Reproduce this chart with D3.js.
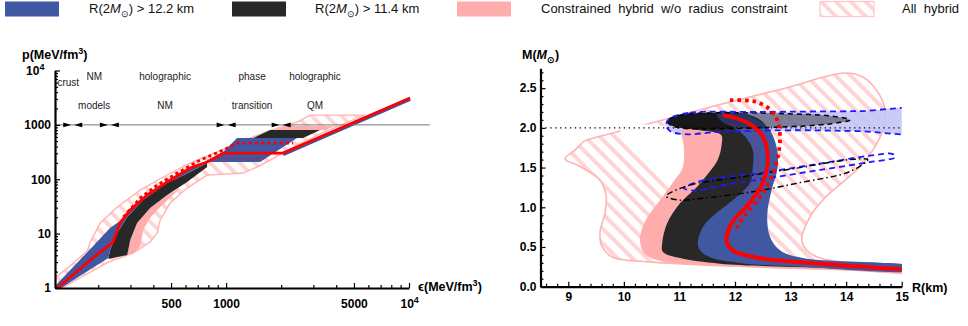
<!DOCTYPE html>
<html>
<head>
<meta charset="utf-8">
<title>Hybrid star EOS and M-R bands</title>
<script src="https://cdn.jsdelivr.net/npm/d3@7"></script>
<style>
body { margin: 0; background: #fff; }
svg { font-family: "Liberation Sans", Arial, sans-serif; }
.axis path.domain { stroke: #000; stroke-width: 2.2; }
.axis line { stroke: #000; stroke-width: 1.2; }
.axis text { font-size: 12px; font-weight: bold; fill: #000; }
.lbl { font-size: 12.5px; font-weight: bold; }
.note { font-size: 10px; fill: #222; }
.legend text { font-size: 13px; fill: #111; }
</style>
</head>
<body>
<svg id="fig" width="968" height="326"></svg>
<script>
// ---------- left panel: p(eps), MeV/fm^3 ----------
var allHybridEos = [[116,1.53],[140,2.54],[174,4.79],[181,7.01],[205,15.7],[254,30.8],[339,63.3],[452,110],
  [636,199],[893,316],[1193,483],[1593,707],[1973,912],[2443,1125],[2877,1514],[5749,1514],
  [4761,1175],[3264,678],[2443,425],[1740,225],[1477,168],[1238,130],[787,119],[612,68.9],
  [494,36.5],[436,17.8],[420,10.3],[384,7.01],[310,4.40],[227,3.0],[116,0.85]];
var constrainedEosNM = [[288,4.04],[299,7.63],[326,15.7],[384,29.6],[476,51.3],[561,68.9],
  [436,30.8],[384,19.4],[352,11.7],[339,5.67],[310,4.40]];
var constrainedEosPT = [[1852,802],[3475,802],[3941,951],[2101,951]];
var softEosNM = [[227,3.41],[232,4.99],[254,10.3],[288,20.2],[352,41.5],[476,85.1],[636,136],[787,199],
  [787,168],[612,88.9],[476,51.3],[384,29.6],[326,15.7],[299,7.63],[288,4.04]];
var softEosPT = [[1740,802],[3264,802],[2634,572],[1404,572]];
var stiffEos = [[116,1.09],[181,5.21],[232,12.7],[263,17],[299,29],[370,54],[476,93],[636,168],[787,215],
  [963,316],[1148,572],[2443,572],[1534,207],[797,207],[787,199],[636,136],[476,85.1],[352,41.5],
  [288,20.2],[254,10.3],[232,4.99],[227,3.56],[116,0.85]];
var stiffEosTail = [[2049,290],[10130,2990]];
var eosSolid = [[116,0.92],[181,3.27],[241,7.01],[263,15.7],[299,27.2],[370,51.3],[476,88.9],[636,161],
  [787,207],[963,303],[2049,303],[10130,3110]];
var eosDashed = [[274,20.2],[339,45.1],[420,78.2],[540,130],[721,225],[963,344],[1148,463],[2323,463]];
var eosDotted = [[818,245],[1675,245]];
var refPressure = 1000;
var refLineEps = [116, 13000];
var regionEdges = [145, 230, 1000, 2000];
var regionLabels = [
  {eps: 137, rows: ["crust"], crust: true},
  {eps: 190, rows: ["NM", "models"]},
  {eps: 464, rows: ["holographic", "NM"]},
  {eps: 1387, rows: ["phase", "transition"]},
  {eps: 3062, rows: ["holographic", "QM"]}];
var labelRowsP = [7900, 2300], crustRowP = 5900;
var epsMajor = [500, 1000, 5000, 10000];
var pMajor = [1, 10, 100, 1000, 10000];

// ---------- right panel: M(R), km and solar masses ----------
var allHybridMR = [[13.98,2.69],[14.30,2.64],[14.57,2.45],[14.70,2.23],[14.66,1.97],[14.48,1.72],[14.25,1.51],
  [13.98,1.34],[13.62,1.12],[13.35,0.88],[13.20,0.59],[13.29,0.46],[13.53,0.36],[14.12,0.30],[14.97,0.27],
  [15.3,0.25],[15.3,0.19],[14.07,0.21],[12.32,0.25],[10.52,0.31],[9.80,0.37],[9.61,0.50],[9.57,0.68],[9.66,0.93],
  [9.68,1.15],[9.57,1.34],[9.39,1.44],[9.17,1.53],[8.94,1.61],[9.12,1.72],[9.30,1.84],[9.44,1.87],
  [10.6,2.08],[11.71,2.29],[12.9,2.50]];
var gapMR = [[9.93,2.0],[11.05,1.96],[11.08,1.76],[11.06,1.50],[10.88,1.28],[10.65,1.37],[10.38,1.60],[10.11,1.81]];
var constrainedMR = [[15.3,0.20],[13.53,0.22],[11.73,0.26],[10.78,0.31],[10.38,0.41],[10.29,0.59],[10.38,0.82],
  [10.65,1.09],[10.88,1.31],[11.06,1.50],[11.08,1.76],[11.05,1.96],[11.37,2.00],[12.00,1.97],[12.09,1.72],
  [11.91,1.41],[11.64,1.16],[11.37,0.90],[11.19,0.59],[11.37,0.40],[15.3,0.25]];
var softMR = [[10.78,2.09],[11.01,2.16],[11.73,2.19],[12.27,2.16],[12.54,2.04],[12.63,1.72],[12.45,1.34],
  [12.18,1.03],[12.00,0.71],[12.09,0.46],[13.17,0.34],[15.3,0.245],[15.3,0.21],[13.53,0.24],[11.73,0.29],
  [11.01,0.36],[10.70,0.44],[10.69,0.55],[10.78,0.80],[11.01,1.05],[11.32,1.26],[11.50,1.41],[11.69,1.60],
  [11.76,1.79],[11.75,1.91],[11.37,1.97],[11.01,2.00],[10.83,2.04]];
var stiffMR = [[11.67,2.19],[12.03,2.19],[12.40,2.11],[12.63,1.97],[12.76,1.72],[12.76,1.47],[12.66,1.22],
  [12.58,0.90],[12.63,0.63],[12.81,0.46],[13.22,0.36],[15.3,0.245],[15.3,0.205],[13.17,0.25],[12.09,0.30],
  [11.55,0.37],[11.37,0.46],[11.33,0.55],[11.42,0.75],[11.67,0.93],[12.03,1.13],[12.27,1.31],[12.32,1.50],
  [12.32,1.72],[12.18,1.89],[11.96,2.01],[11.73,2.10]];
var massBand = [[10.83,2.12],[11.19,2.19],[12.45,2.20],[14.2,2.21],[15.4,2.21],[15.4,1.96],[14.2,1.96],[13.17,1.97],[11.73,1.95],
  [11.10,1.92],[10.83,1.96],[10.76,2.04]];
var massEllipse = [[10.78,2.09],[11.01,2.16],[11.73,2.19],[12.81,2.18],[13.71,2.15],[14.07,2.10],[13.71,2.05],
  [12.81,2.01],[11.73,1.99],[11.01,2.00],[10.83,2.04]];
var tiltBlue = [[11.08,1.24],[11.37,1.33],[12.45,1.43],[13.53,1.55],[14.43,1.65],[14.84,1.67],[14.88,1.63],
  [14.43,1.57],[13.53,1.47],[12.63,1.37],[11.73,1.27],[11.28,1.21]];
var tiltBlack = [[10.76,1.14],[11.19,1.28],[12.09,1.38],[13.17,1.50],[14.07,1.60],[14.39,1.60],[14.07,1.45],
  [13.17,1.31],[12.27,1.19],[11.37,1.11],[11.01,1.09]];
var mrSolid = [[11.78,2.16],[12.21,2.07],[12.50,1.89],[12.59,1.63],[12.50,1.31],[12.30,1.09],[12.18,0.99],
  [11.96,0.82],[11.85,0.63],[11.87,0.53],[12.00,0.44],[12.45,0.36],[13.53,0.29],[15.0,0.22]];
var mrDotted = [[11.91,2.35],[12.27,2.34],[12.45,2.31],[12.63,2.23],[12.76,2.10],[12.81,1.89],[12.77,1.63],
  [12.63,1.34],[12.45,1.13],[12.18,0.90],[12.03,0.74]];
var mrThin = [[11.91,2.05],[12.09,2.00],[12.27,1.95],[12.36,1.81],[12.41,1.63],[12.40,1.43],[12.27,1.26],[12.12,1.12]];
var refMass = 2.0;
var rMajor = [9, 10, 11, 12, 13, 14, 15];
var mMajor = [0, 0.5, 1, 1.5, 2, 2.5];

var legendItems = [
  {key: "stiff", parts: [["R(2"], ["M", "i"], ["\u2299", "s"], [") > 12.2 km"]]},
  {key: "soft", parts: [["R(2"], ["M", "i"], ["\u2299", "s"], [") > 11.4 km"]]},
  {key: "constrained", parts: [["Constrained  hybrid  w/o  radius  constraint"]]},
  {key: "all", parts: [["All  hybrid"]]}];

// ---------- styles / layout ----------
var BLUE = "#4057a2", DARK = "#282828", PINK = "#ffacac", EDGE = "#ffb3b3", RED = "#ff0000";
var fills = {stiff: BLUE, soft: DARK, constrained: PINK, all: "url(#hatch)"};
var legendBoxX = [5, 232, 457, 820], legendTextX = [89, 315, 541, 902];

var svg = d3.select("#fig");
var defs = svg.append("defs");
var pat = defs.append("pattern").attr("id", "hatch")
  .attr("patternUnits", "userSpaceOnUse")
  .attr("width", 10.5).attr("height", 10.5)
  .attr("patternTransform", "rotate(-45)");
pat.append("rect").attr("width", 4).attr("height", 10.5).attr("fill", "#ffd4d4");

var xL = d3.scaleLog().domain([116, 10000]).range([55, 409]);
var yL = d3.scaleLog().domain([1, 10000]).range([288, 70.5]);
var xR = d3.scaleLinear().domain([8.5, 15]).range([540.5, 901.7]);
var yR = d3.scaleLinear().domain([0, 2.75]).range([286.7, 68.3]);

defs.append("clipPath").attr("id", "clipL").append("rect")
  .attr("x", xL.range()[0]).attr("y", 60).attr("width", 380).attr("height", yL.range()[0] - 60);
defs.append("clipPath").attr("id", "clipR").append("rect")
  .attr("x", xR.range()[0]).attr("y", 60).attr("width", xR.range()[1] - xR.range()[0]).attr("height", yR.range()[0] - 60);

function shape(g, pts, x, y, curve) {
  return g.append("path").datum(pts)
    .attr("d", d3.line().x(d => x(d[0])).y(d => y(d[1])).curve(curve));
}

// ---------- left panel ----------
var gL = svg.append("g").attr("clip-path", "url(#clipL)");
var lin = d3.curveLinearClosed;
shape(gL, allHybridEos, xL, yL, lin).attr("fill", "url(#hatch)").attr("stroke", EDGE).attr("stroke-width", 1.4);
[constrainedEosNM, constrainedEosPT].forEach(p => shape(gL, p, xL, yL, lin).attr("fill", PINK));
[softEosNM, softEosPT].forEach(p => shape(gL, p, xL, yL, lin).attr("fill", DARK));
shape(gL, stiffEos, xL, yL, lin).attr("fill", BLUE);
shape(gL, stiffEosTail, xL, yL, d3.curveLinear).attr("fill", "none").attr("stroke", BLUE).attr("stroke-width", 4);

gL.append("line")
  .attr("x1", xL(refLineEps[0])).attr("x2", xL(refLineEps[1]))
  .attr("y1", yL(refPressure)).attr("y2", yL(refPressure))
  .attr("stroke", "#777").attr("stroke-width", 1);

shape(gL, eosDotted, xL, yL, d3.curveLinear).attr("fill", "none").attr("stroke", RED)
  .attr("stroke-width", 1.3).attr("stroke-dasharray", "1.2,2.6");
shape(gL, eosDashed, xL, yL, d3.curveLinear).attr("fill", "none").attr("stroke", RED)
  .attr("stroke-width", 2.8).attr("stroke-dasharray", "3.2,3");
shape(gL, eosSolid, xL, yL, d3.curveLinear).attr("fill", "none").attr("stroke", RED).attr("stroke-width", 2.8);

var ay = yL(refPressure);
regionEdges.forEach(function (e) {
  var xe = xL(e);
  svg.append("path").attr("d", d3.line()([[xe - 9.5, ay - 2.3], [xe - 1.5, ay], [xe - 9.5, ay + 2.3]]) + "Z").attr("fill", "#000");
  svg.append("path").attr("d", d3.line()([[xe + 9.5, ay - 2.3], [xe + 1.5, ay], [xe + 9.5, ay + 2.3]]) + "Z").attr("fill", "#000");
});
regionLabels.forEach(function (r) {
  if (r.crust) {
    svg.append("text").attr("class", "note").attr("x", xL(r.eps)).attr("y", yL(crustRowP))
      .attr("text-anchor", "middle").attr("dominant-baseline", "central").text(r.rows[0]);
  } else {
    r.rows.forEach(function (t, i) {
      svg.append("text").attr("class", "note").attr("x", xL(r.eps)).attr("y", yL(labelRowsP[i]))
        .attr("text-anchor", "middle").attr("dominant-baseline", "central").text(t);
    });
  }
});

// axes left
function minorOf(scale, major, n) {
  return scale.ticks(n).filter(v => major.indexOf(v) < 0);
}
var axXL = svg.append("g").attr("class", "axis").attr("transform", "translate(0," + yL.range()[0] + ")");
axXL.call(d3.axisBottom(xL).tickValues(minorOf(xL, epsMajor)).tickSize(-3).tickSizeOuter(0).tickFormat(""));
axXL.append("g").call(d3.axisBottom(xL).tickValues(epsMajor).tickSize(-5).tickSizeOuter(0).tickPadding(11)
  .tickFormat(d => d === 10000 ? "10" : d)).select(".domain").remove();
axXL.selectAll(".tick text").filter(d => d === 10000)
  .attr("text-anchor", "start").attr("dx", "-0.75em")
  .append("tspan").attr("dy", "-5").attr("font-size", "9px").text("4");

var axYL = svg.append("g").attr("class", "axis").attr("transform", "translate(" + xL.range()[0] + ",0)");
axYL.call(d3.axisLeft(yL).tickValues(minorOf(yL, pMajor)).tickSize(-3).tickSizeOuter(0).tickFormat(""));
axYL.append("g").call(d3.axisLeft(yL).tickValues(pMajor).tickSize(-5).tickSizeOuter(0).tickPadding(4)
  .tickFormat(d => d === 10000 ? "10" : d)).select(".domain").remove();
axYL.selectAll(".tick text").filter(d => d === 10000)
  .attr("dx", "-0.55em")
  .append("tspan").attr("dy", "-5").attr("font-size", "9px").text("4");

var tp = svg.append("text").attr("class", "lbl").attr("x", 22).attr("y", 59).text("p(MeV/fm");
tp.append("tspan").attr("dy", -5).attr("font-size", "9px").text("3");
tp.append("tspan").attr("dy", 5).text(")");
var te = svg.append("text").attr("class", "lbl").attr("x", 418).attr("y", 291).text("\u03F5(MeV/fm");
te.append("tspan").attr("dy", -5).attr("font-size", "9px").text("3");
te.append("tspan").attr("dy", 5).text(")");

// ---------- right panel ----------
var gR = svg.append("g").attr("clip-path", "url(#clipR)");
var cr = d3.curveCatmullRomClosed.alpha(0.5);
shape(gR, allHybridMR, xR, yR, cr).attr("fill", "url(#hatch)").attr("stroke", EDGE).attr("stroke-width", 1.6);
shape(gR, gapMR, xR, yR, cr).attr("fill", "#fff");
shape(gR, massBand, xR, yR, cr).attr("fill", "#c4c4f6").attr("opacity", 0.9);
shape(gR, constrainedMR, xR, yR, cr).attr("fill", PINK);
shape(gR, softMR, xR, yR, cr).attr("fill", DARK);
shape(gR, stiffMR, xR, yR, cr).attr("fill", BLUE);
shape(gR, massEllipse, xR, yR, cr).attr("fill", "#000").attr("fill-opacity", 0.38)
  .attr("stroke", "#000").attr("stroke-width", 1.5).attr("stroke-dasharray", "5,4");
shape(gR, massBand, xR, yR, cr).attr("fill", "none")
  .attr("stroke", "#1a1aff").attr("stroke-width", 1.8).attr("stroke-dasharray", "6,4");
shape(gR, tiltBlue, xR, yR, cr).attr("fill", "none")
  .attr("stroke", "#1a1aff").attr("stroke-width", 1.8).attr("stroke-dasharray", "6,4");
shape(gR, tiltBlack, xR, yR, cr).attr("fill", "none")
  .attr("stroke", "#000").attr("stroke-width", 1.4).attr("stroke-dasharray", "6,3,1.5,3");
gR.append("line")
  .attr("x1", xR.range()[0]).attr("x2", xR.range()[1])
  .attr("y1", yR(refMass)).attr("y2", yR(refMass))
  .attr("stroke", "#000").attr("stroke-width", 1.3).attr("stroke-dasharray", "1.3,3.6");
var op = d3.curveCatmullRom.alpha(0.5);
shape(gR, mrThin, xR, yR, op).attr("fill", "none").attr("stroke", RED)
  .attr("stroke-width", 1.2).attr("stroke-dasharray", "1.3,3");
shape(gR, mrDotted, xR, yR, op).attr("fill", "none").attr("stroke", RED)
  .attr("stroke-width", 3.8).attr("stroke-dasharray", "3.5,4");
shape(gR, mrSolid, xR, yR, op).attr("fill", "none").attr("stroke", RED).attr("stroke-width", 4);

var axXR = svg.append("g").attr("class", "axis").attr("transform", "translate(0," + yR.range()[0] + ")");
axXR.call(d3.axisBottom(xR).tickValues(minorOf(xR, rMajor, 33)).tickSize(-3).tickSizeOuter(0).tickFormat(""));
axXR.append("g").call(d3.axisBottom(xR).tickValues(rMajor).tickSize(-5).tickSizeOuter(0).tickPadding(6)
  .tickFormat(d3.format("d"))).select(".domain").remove();
var axYR = svg.append("g").attr("class", "axis").attr("transform", "translate(" + xR.range()[0] + ",0)");
axYR.call(d3.axisLeft(yR).tickValues(minorOf(yR, mMajor, 28)).tickSize(-3).tickSizeOuter(0).tickFormat(""));
axYR.append("g").call(d3.axisLeft(yR).tickValues(mMajor).tickSize(-5).tickSizeOuter(0).tickPadding(4)
  .tickFormat(d3.format(".1f"))).select(".domain").remove();

var tm = svg.append("text").attr("class", "lbl").attr("x", 522).attr("y", 59).text("M(");
tm.append("tspan").attr("font-style", "italic").text("M");
tm.append("tspan").attr("dy", 4).attr("font-size", "9px").text("\u2299");
tm.append("tspan").attr("dy", -4).text(")");
svg.append("text").attr("class", "lbl").attr("x", 912).attr("y", 292).text("R(km)");

// ---------- legend ----------
var lg = svg.append("g").attr("class", "legend");
legendItems.forEach(function (it, i) {
  lg.append("rect").attr("x", legendBoxX[i]).attr("y", 1.5).attr("width", 54).attr("height", 15)
    .attr("fill", fills[it.key])
    .attr("stroke", it.key === "all" ? "#ffc6c6" : "none").attr("stroke-width", 1.2);
  var t = lg.append("text").attr("x", legendTextX[i]).attr("y", 13).attr("xml:space", "preserve");
  var shift = 0;
  it.parts.forEach(function (p) {
    var s = t.append("tspan").text(p[0]);
    if (p[1] === "i") s.attr("font-style", "italic");
    if (p[1] === "s") { s.attr("dy", 4).attr("font-size", "9px"); shift = 4; }
    else if (shift) { s.attr("dy", -shift); shift = 0; }
  });
});
</script>
</body>
</html>
